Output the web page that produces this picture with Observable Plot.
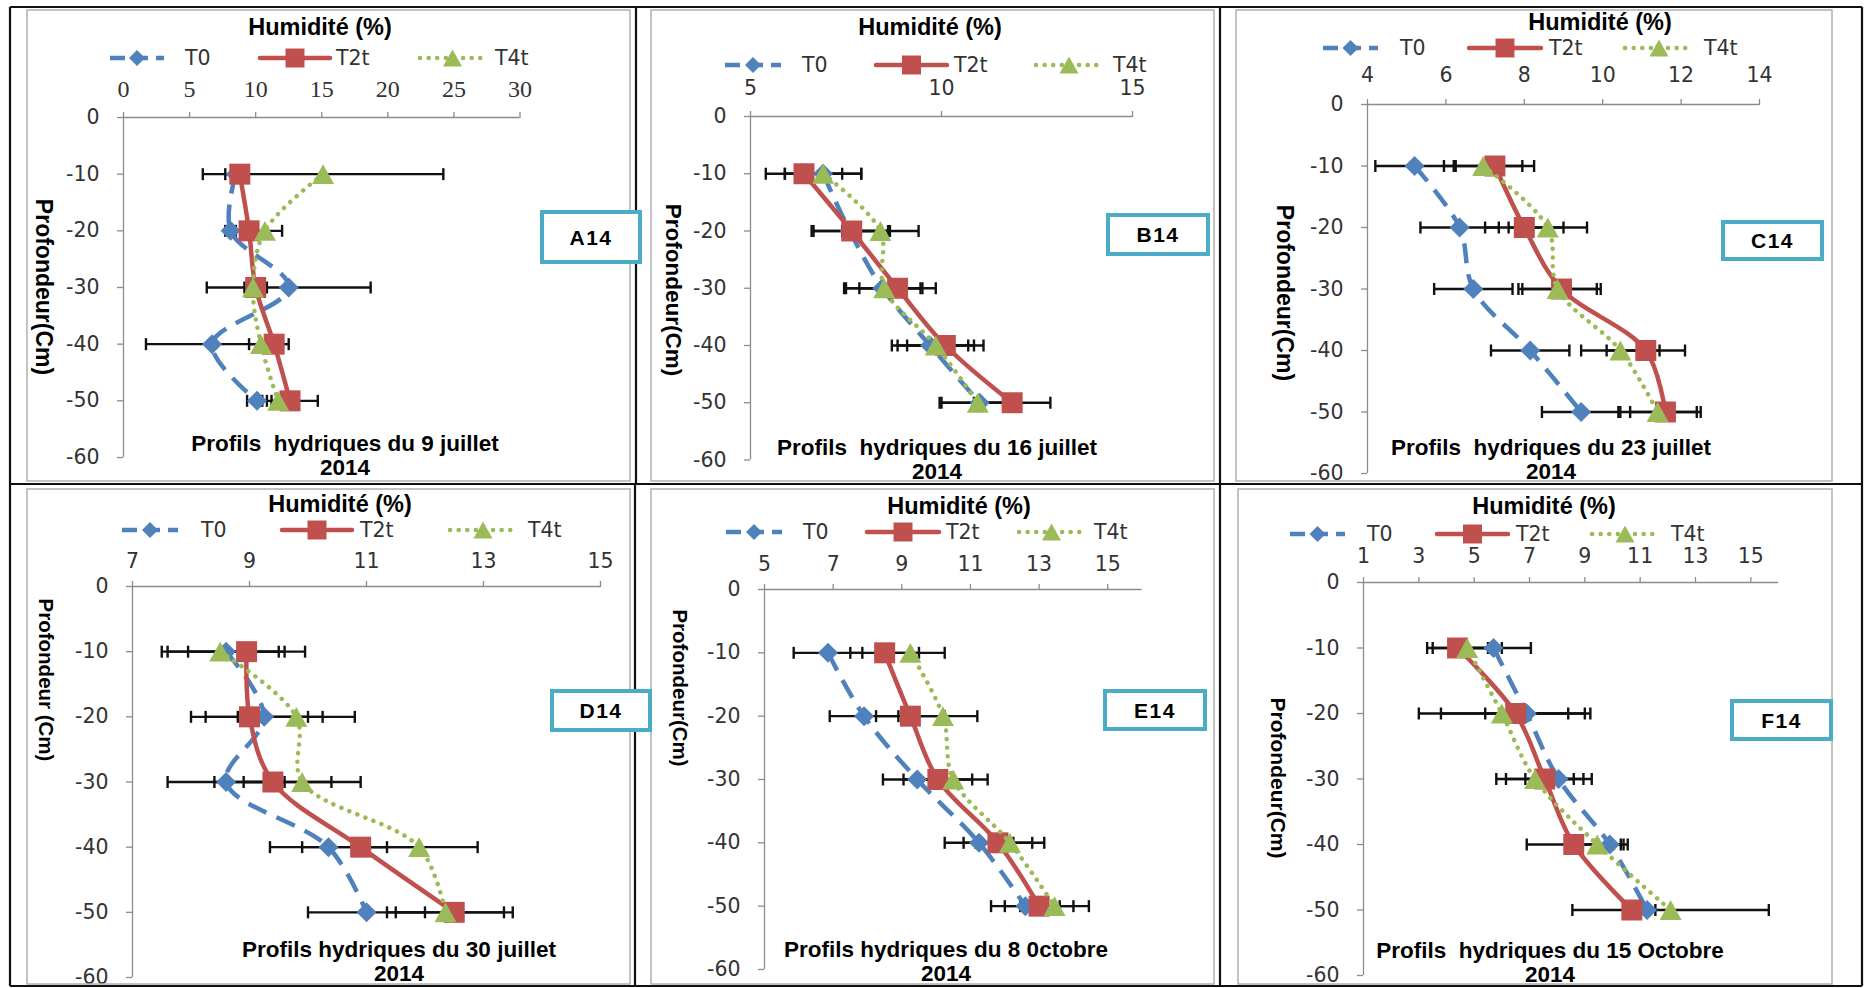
<!DOCTYPE html>
<html><head><meta charset="utf-8">
<script src="https://cdn.jsdelivr.net/npm/d3@7"></script>
<script src="https://cdn.jsdelivr.net/npm/@observablehq/plot@0.6"></script>
<style>
html,body{margin:0;padding:0;background:#fff;}
#root{position:relative;width:1871px;height:988px;overflow:hidden;background:#fff;}
.panel{position:absolute;}
#ov{position:absolute;left:0;top:0;pointer-events:none;}
</style></head><body><div id="root"></div>
<script>
// ---------------- DATA ----------------
const depths = [-10, -20, -30, -40, -50];
const yTicks = [0, -10, -20, -30, -40, -50, -60];
const seriesNames = ["T0", "T2t", "T4t"];
const xTitle = "Humidité (%)";
const panelIds = ["A14", "B14", "C14", "D14", "E14", "F14"];
const captions = ["Profils  hydriques du 9 juillet", "Profils  hydriques du 16 juillet", "Profils  hydriques du 23 juillet",
                  "Profils hydriques du 30 juillet", "Profils hydriques du 8 0ctobre", "Profils  hydriques du 15 Octobre"];
const captionYear = "2014";
const yLabels = ["Profondeur(Cm)", "Profondeur(Cm)", "Profondeur(Cm)", "Profondeur (Cm)", "Profondeur(Cm)", "Profondeur(Cm)"];

const A14_xDomain = [0, 30];
const A14_xTicks = [0, 5, 10, 15, 20, 25, 30];
const A14_T0 = [8.5, 8.1, 12.5, 6.7, 10.1];
const A14_T2t = [8.8, 9.5, 10.0, 11.4, 12.6];
const A14_T4t = [15.1, 10.7, 9.8, 10.4, 11.7];
const A14_T0_err = [0.8, 0.4, 6.2, 5.0, 0.75];
const A14_T2t_err = [0.6, 0.4, 0.85, 1.1, 2.1];
const A14_T4t_err = [9.1, 1.3, 0.4, 0.9, 0.5];

const B14_xDomain = [5, 15];
const B14_xTicks = [5, 10, 15];
const B14_T0 = [6.9, 7.6, 8.45, 9.7, 11.0];
const B14_T2t = [6.4, 7.65, 8.85, 10.1, 11.85];
const B14_T4t = [6.9, 8.4, 8.5, 9.85, 10.95];
const B14_T0_err = [1.0, 1.0, 1.0, 1.0, 1.0];
const B14_T2t_err = [1.0, 1.0, 1.0, 1.0, 1.0];
const B14_T4t_err = [1.0, 1.0, 1.0, 1.0, 1.0];

const C14_xDomain = [4, 14];
const C14_xTicks = [4, 6, 8, 10, 12, 14];
const C14_T0 = [5.2, 6.35, 6.7, 8.15, 9.45];
const C14_T2t = [7.25, 8.0, 8.95, 11.1, 11.6];
const C14_T4t = [6.95, 8.6, 8.85, 10.45, 11.4];
const C14_T0_err = [1.0, 1.0, 1.0, 1.0, 1.0];
const C14_T2t_err = [1.0, 1.0, 1.0, 1.0, 0.9];
const C14_T4t_err = [1.0, 1.0, 1.0, 1.0, 1.0];

const D14_xDomain = [7, 15];
const D14_xTicks = [7, 9, 11, 13, 15];
const D14_T0 = [8.6, 9.25, 8.6, 10.35, 11.0];
const D14_T2t = [8.95, 9.0, 9.4, 10.9, 12.5];
const D14_T4t = [8.5, 9.8, 9.9, 11.9, 12.35];
const D14_T0_err = [1.0, 1.0, 1.0, 1.0, 1.0];
const D14_T2t_err = [1.0, 1.0, 1.0, 1.0, 1.0];
const D14_T4t_err = [1.0, 1.0, 1.0, 1.0, 1.0];

const E14_xDomain = [5, 16];
const E14_xTicks = [5, 7, 9, 11, 13, 15];
const E14_T0 = [6.85, 7.9, 9.45, 11.25, 12.6];
const E14_T2t = [8.5, 9.25, 10.05, 11.8, 13.0];
const E14_T4t = [9.25, 10.2, 10.5, 12.15, 13.45];
const E14_T0_err = [1.0, 1.0, 1.0, 1.0, 1.0];
const E14_T2t_err = [1.0, 1.0, 1.0, 1.0, 1.0];
const E14_T4t_err = [1.0, 1.0, 1.0, 1.0, 1.0];

const F14_xDomain = [1, 16];
const F14_xTicks = [1, 3, 5, 7, 9, 11, 13, 15];
const F14_T0 = [5.7, 6.9, 8.05, 9.9, 11.25];
const F14_T2t = [4.4, 6.5, 7.55, 8.6, 10.7];
const F14_T4t = [4.75, 6.0, 7.2, 9.45, 12.1];
const F14_T0_err = [1.35, 1.5, 1.2, 0.5, 0.3];
const F14_T2t_err = [1.1, 2.7, 1.4, 1.7, 0.3];
const F14_T4t_err = [1.25, 3.0, 1.4, 1.1, 3.55];

const panelData = {
  A14: {xDomain: A14_xDomain, xTicks: A14_xTicks, vals: {T0: A14_T0, T2t: A14_T2t, T4t: A14_T4t}, errs: {T0: A14_T0_err, T2t: A14_T2t_err, T4t: A14_T4t_err}},
  B14: {xDomain: B14_xDomain, xTicks: B14_xTicks, vals: {T0: B14_T0, T2t: B14_T2t, T4t: B14_T4t}, errs: {T0: B14_T0_err, T2t: B14_T2t_err, T4t: B14_T4t_err}},
  C14: {xDomain: C14_xDomain, xTicks: C14_xTicks, vals: {T0: C14_T0, T2t: C14_T2t, T4t: C14_T4t}, errs: {T0: C14_T0_err, T2t: C14_T2t_err, T4t: C14_T4t_err}},
  D14: {xDomain: D14_xDomain, xTicks: D14_xTicks, vals: {T0: D14_T0, T2t: D14_T2t, T4t: D14_T4t}, errs: {T0: D14_T0_err, T2t: D14_T2t_err, T4t: D14_T4t_err}},
  E14: {xDomain: E14_xDomain, xTicks: E14_xTicks, vals: {T0: E14_T0, T2t: E14_T2t, T4t: E14_T4t}, errs: {T0: E14_T0_err, T2t: E14_T2t_err, T4t: E14_T4t_err}},
  F14: {xDomain: F14_xDomain, xTicks: F14_xTicks, vals: {T0: F14_T0, T2t: F14_T2t, T4t: F14_T4t}, errs: {T0: F14_T0_err, T2t: F14_T2t_err, T4t: F14_T4t_err}}
};

// ---------------- LAYOUT / STYLE ----------------
const COLORS = {T0: "#4F81BD", T2t: "#C0504D", T4t: "#9BBB59"};
const DASH = {T0: "20,11", T2t: "none", T4t: "0.1,8.5"};
const CAPS = {T0: "butt", T2t: "round", T4t: "round"};
const layout = {
  A14: {ax0: 122.5, ax1: 519, y0: 117, y60: 457, xLabY: 88, serif: true, title: [320, 27], legY: 58,
        leg: [[110, 164, 185], [260, 330, 336], [420, 485, 495]], ylab: [44, 287, 23], cap: [345, 443, 467], box: [542, 212, 640, 262]},
  B14: {ax0: 750, ax1: 1132, y0: 115.5, y60: 459, xLabY: 87, title: [930, 27], legY: 65,
        leg: [[725, 781, 802], [876, 947, 954], [1036, 1102, 1113]], ylab: [673, 290, 22.5], cap: [937, 447, 471], box: [1108, 215, 1208, 254]},
  C14: {ax0: 1367, ax1: 1759, y0: 104, y60: 473, xLabY: 74, title: [1600, 22], legY: 48,
        leg: [[1323, 1378, 1400], [1469, 1541, 1549], [1625, 1693, 1704]], ylab: [1285, 293, 23], cap: [1551, 447, 471], box: [1723, 222, 1822, 259]},
  D14: {ax0: 132, ax1: 600, y0: 586, y60: 977, xLabY: 560, title: [340, 504], legY: 530,
        leg: [[122, 178, 201], [282, 352, 360], [450, 516, 528]], ylab: [46, 680, 20.5], cap: [399, 949, 973], box: [552, 691, 650, 730]},
  E14: {ax0: 764, ax1: 1141.6, y0: 589, y60: 969, xLabY: 563, title: [959, 506], legY: 532,
        leg: [[726, 782, 803], [867, 939, 946], [1019, 1084, 1094]], ylab: [680, 688, 20.5], cap: [946, 949, 973], box: [1105, 691, 1205, 729]},
  F14: {ax0: 1363, ax1: 1778, y0: 582, y60: 975, xLabY: 555, title: [1544, 506], legY: 534,
        leg: [[1290, 1345, 1367], [1437, 1508, 1516], [1592, 1658, 1671]], ylab: [1278, 778, 21], cap: [1550, 950, 974], box: [1732, 701, 1831, 739]}
};
const frame = {left: 10, right: 1862, top: 7, bottom: 986, mid: 484, topV: [636, 1220], botV: [635, 1220]};
const chartRects = [[27, 10, 630, 481], [651, 10, 1214, 481], [1236, 10, 1832, 481],
                    [27, 489, 630, 984], [651, 489, 1214, 984], [1238, 489, 1832, 984]];

// symbols (size = full extent squared)
const sqrSym = {draw(ctx, size) { const s = Math.sqrt(size) / 2; ctx.moveTo(-s, -s); ctx.lineTo(s, -s); ctx.lineTo(s, s); ctx.lineTo(-s, s); ctx.closePath(); }};
const diaSym = {draw(ctx, size) { const h = Math.sqrt(size) / 2; ctx.moveTo(0, -h); ctx.lineTo(h, 0); ctx.lineTo(0, h); ctx.lineTo(-h, 0); ctx.closePath(); }};
const triSym = {draw(ctx, size) { const w = Math.sqrt(size) / 2, h = w * 0.9; ctx.moveTo(0, -h); ctx.lineTo(w, h); ctx.lineTo(-w, h); ctx.closePath(); }};
const capSym = {draw(ctx, size) { const h = Math.sqrt(size) / 2; ctx.moveTo(0, -h); ctx.lineTo(0, h); }};
const SYMS = {T0: diaSym, T2t: sqrSym, T4t: triSym};
const SIZES = {T0: 20, T2t: 21, T4t: 22};
const LEGSIZES = {T0: 16, T2t: 19, T4t: 19};
const rFor = S => S / Math.sqrt(Math.PI);

const root = document.getElementById("root");
const TICKFONT = "DejaVu Sans, Verdana, sans-serif";
const BOLDFONT = "Liberation Sans, Arial, sans-serif";
const TICKSIZE = 20.5;

function buildPanel(id) {
  const L = layout[id], P = panelData[id];
  const mL = 90, mT = 60, mR = 15, mB = 10;
  const W = L.ax1 - L.ax0 + mL + mR, H = L.y60 - L.y0 + mT + mB;
  const rows = [];
  for (const s of seriesNames) P.vals[s].forEach((v, i) => rows.push({s, d: depths[i], v, e: P.errs[s][i]}));
  const errRows = rows.filter(r => r.e > 0);
  const capRows = errRows.flatMap(r => [{d: r.d, x: r.v - r.e}, {d: r.d, x: r.v + r.e}]);
  const xFont = L.serif ? {fontSize: 24, fontFamily: "Liberation Serif, Times New Roman, serif"} : {fontSize: TICKSIZE, fontFamily: TICKFONT};
  const xPad = (L.y0 - L.xLabY) - 6 - (L.serif ? 8 : 7.4);
  const marks = [
    Plot.ruleX([P.xDomain[0]], {stroke: "#8c8c8c", strokeWidth: 1.3}),
    Plot.ruleY([0], {stroke: "#8c8c8c", strokeWidth: 1.3}),
    Plot.axisX({anchor: "top", ticks: P.xTicks, tickSize: 6, tickPadding: xPad, tickFormat: d => String(d), label: null,
                stroke: "#8c8c8c", strokeWidth: 1.3, fill: "#333", ...xFont}),
    Plot.axisY({anchor: "left", ticks: yTicks, tickSize: 6, tickPadding: 18, tickFormat: d => String(d), label: null,
                stroke: "#8c8c8c", strokeWidth: 1.3, fill: "#333", fontSize: TICKSIZE, fontFamily: TICKFONT}),
    Plot.link(errRows, {x1: r => r.v - r.e, x2: r => r.v + r.e, y1: "d", y2: "d", stroke: "#111", strokeWidth: 2.4}),
    Plot.dot(capRows, {x: "x", y: "d", symbol: capSym, r: rFor(12), stroke: "#111", strokeWidth: 2.4, fill: "none"})
  ];
  for (const s of seriesNames) {
    const sr = rows.filter(r => r.s === s);
    marks.push(Plot.line(sr, {x: "v", y: "d", curve: "catmull-rom", stroke: COLORS[s], strokeWidth: 4.5,
      strokeDasharray: DASH[s], strokeLinecap: CAPS[s]}));
    marks.push(Plot.dot(sr, {x: "v", y: "d", symbol: SYMS[s], r: rFor(SIZES[s]), fill: COLORS[s], stroke: "none"}));
  }
  const svg = Plot.plot({
    width: W, height: H, marginLeft: mL, marginRight: mR, marginTop: mT, marginBottom: mB,
    x: {domain: P.xDomain, label: null}, y: {domain: [-60, 0], label: null},
    style: {background: "transparent", overflow: "visible"},
    marks
  });
  const div = document.createElement("div");
  div.className = "panel";
  div.style.left = (L.ax0 - mL) + "px";
  div.style.top = (L.y0 - mT) + "px";
  div.appendChild(svg);
  root.appendChild(div);
}
panelIds.forEach(buildPanel);

// ---------------- OVERLAY (frames, titles, legends, captions, boxes) ----------------
const ov = d3.select(root).append("svg").attr("id", "ov").attr("width", 1871).attr("height", 988);
chartRects.forEach(([x0, y0, x1, y1]) => ov.append("rect").attr("x", x0).attr("y", y0).attr("width", x1 - x0).attr("height", y1 - y0)
  .attr("fill", "none").attr("stroke", "#b0b0b0").attr("stroke-width", 1.5));
const fl = (x1, y1, x2, y2) => ov.append("line").attr("x1", x1).attr("y1", y1).attr("x2", x2).attr("y2", y2).attr("stroke", "#111").attr("stroke-width", 2.2);
fl(frame.left, frame.top, frame.right, frame.top);
fl(frame.left, frame.mid, frame.right, frame.mid);
fl(frame.left, frame.bottom, frame.right, frame.bottom);
fl(frame.left, frame.top, frame.left, frame.bottom);
fl(frame.right, frame.top, frame.right, frame.bottom);
frame.topV.forEach(x => fl(x, frame.top, x, frame.mid));
frame.botV.forEach(x => fl(x, frame.mid, x, frame.bottom));

function symPath(sym, S) { const p = d3.path(); sym.draw(p, S * S); return p.toString(); }

panelIds.forEach((id, k) => {
  const L = layout[id];
  // title
  ov.append("text").attr("x", L.title[0]).attr("y", L.title[1]).attr("text-anchor", "middle").attr("dominant-baseline", "central")
    .attr("font-family", BOLDFONT).attr("font-weight", "bold").attr("font-size", 23.5).attr("fill", "#000").text(xTitle);
  // legend
  seriesNames.forEach((s, j) => {
    const [x0, x1, tx] = L.leg[j];
    ov.append("line").attr("x1", x0).attr("x2", x1).attr("y1", L.legY).attr("y2", L.legY).attr("stroke", COLORS[s])
      .attr("stroke-width", 4.5).attr("stroke-dasharray", s === "T0" ? "15,8" : DASH[s]).attr("stroke-linecap", CAPS[s]);
    ov.append("path").attr("d", symPath(SYMS[s], LEGSIZES[s])).attr("transform", `translate(${(x0 + x1) / 2},${L.legY})`).attr("fill", COLORS[s]);
    ov.append("text").attr("x", tx).attr("y", L.legY).attr("dominant-baseline", "central").attr("font-family", TICKFONT)
      .attr("font-size", 20.5).attr("fill", "#333").text(s);
  });
  // y label
  ov.append("text").attr("transform", `translate(${L.ylab[0]},${L.ylab[1]}) rotate(90)`).attr("text-anchor", "middle")
    .attr("dominant-baseline", "central").attr("font-family", BOLDFONT).attr("font-weight", "bold").attr("font-size", L.ylab[2])
    .attr("fill", "#000").text(yLabels[k]);
  // caption
  ov.append("text").attr("x", L.cap[0]).attr("y", L.cap[1]).attr("text-anchor", "middle").attr("dominant-baseline", "central")
    .attr("font-family", BOLDFONT).attr("font-weight", "bold").attr("font-size", 22.5).style("white-space", "pre").attr("fill", "#000").text(captions[k]);
  ov.append("text").attr("x", L.cap[0]).attr("y", L.cap[2]).attr("text-anchor", "middle").attr("dominant-baseline", "central")
    .attr("font-family", BOLDFONT).attr("font-weight", "bold").attr("font-size", 22.5).attr("fill", "#000").text(captionYear);
  // box
  const [bx0, by0, bx1, by1] = L.box;
  ov.append("rect").attr("x", bx0).attr("y", by0).attr("width", bx1 - bx0).attr("height", by1 - by0).attr("fill", "#fff")
    .attr("stroke", "#4BACC6").attr("stroke-width", 4);
  ov.append("text").attr("x", (bx0 + bx1) / 2).attr("y", (by0 + by1) / 2).attr("text-anchor", "middle").attr("dominant-baseline", "central")
    .attr("font-family", BOLDFONT).attr("font-weight", "bold").attr("font-size", 21).attr("letter-spacing", 1.5).attr("fill", "#000").text(id);
});
</script></body></html>
